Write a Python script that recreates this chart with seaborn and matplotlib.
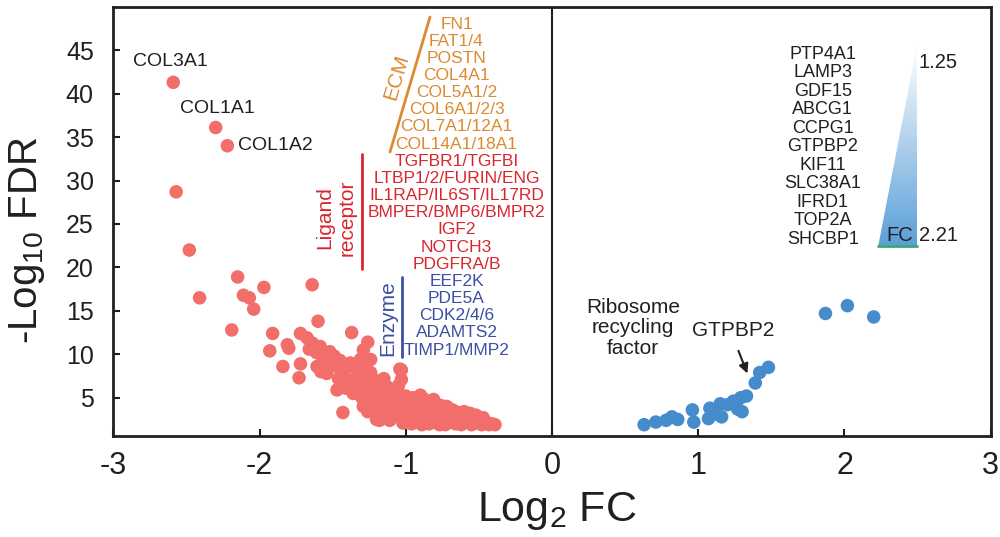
import numpy as np
import pandas as pd
import seaborn as sns
import matplotlib.pyplot as plt
from matplotlib.colors import LinearSegmentedColormap
from matplotlib.patches import Polygon

# down-regulated genes: log2 fold change and -log10 FDR
down_lfc = [-2.59, -2.30, -2.22, -2.57, -2.48, -2.15, -2.41, -1.97, -1.64, -2.11,
            -2.07, -2.04, -2.19, -1.60, -1.91, -1.37, -1.72, -1.93, -1.81, -1.80,
            -1.26, -1.84, -1.72, -1.73, -1.04, -1.43, -1.18,
            -1.675, -1.64, -1.585, -1.52, -1.61, -1.55, -1.66, -1.607, -1.57, -1.54,
            -1.50, -1.47, -1.49, -1.58,
            -1.45, -1.42, -1.40, -1.38, -1.35, -1.31, -1.33, -1.47, -1.44, -1.41,
            -1.36, -1.38, -1.34, -1.31, -1.30, -1.43, -1.46,
            -1.29, -1.24, -1.27, -1.24, -1.22, -1.28, -1.25, -1.24, -1.21, -1.19,
            -1.17, -1.29, -1.26, -1.20, -1.22, -1.18, -1.15, -1.13, -1.12, -1.14,
            -1.10, -1.13, -1.11, -1.16,
            -1.06, -1.03, -1.03, -1.05, -1.01, -1.06, -1.08, -1.04, -1.00, -0.98,
            -0.97, -0.99, -1.02, -0.96, -0.95, -0.93, -0.92, -0.94, -0.91, -0.90,
            -0.89,
            -0.88, -0.86, -0.85, -0.87, -0.84, -0.83, -0.81, -0.80, -0.79, -0.78,
            -0.82, -0.77, -0.76, -0.75, -0.74, -0.72, -0.71, -0.70, -0.73,
            -0.68, -0.67, -0.66, -0.64, -0.63, -0.62, -0.60, -0.58, -0.57, -0.56,
            -0.55, -0.53, -0.52, -0.51, -0.49, -0.48, -0.47, -0.45, -0.43, -0.41,
            -0.39]
down_fdr = [41.3, 36.1, 34.0, 28.7, 22.0, 18.9, 16.5, 17.7, 18.0, 16.8,
            16.5, 15.2, 12.8, 13.8, 12.4, 12.5, 12.4, 10.4, 11.1, 10.7,
            11.4, 8.6, 8.9, 7.3, 8.3, 3.3, 2.4,
            11.9, 11.3, 10.9, 10.3, 10.2, 9.6, 10.6, 8.6, 9.1, 7.8,
            8.9, 8.6, 9.8, 8.0,
            9.3, 8.2, 7.1, 9.0, 8.5, 9.4, 7.6, 5.9, 6.8, 6.1,
            5.5, 6.5, 7.0, 6.2, 5.0, 7.6, 7.2,
            10.5, 9.4, 8.4, 7.9, 7.1, 6.8, 6.0, 5.2, 6.5, 5.8,
            4.8, 4.0, 3.4, 2.5, 4.3, 3.7, 7.2, 6.3, 5.4, 4.5,
            3.9, 3.1, 2.4, 2.9,
            5.5, 8.2, 7.1, 6.4, 4.4, 2.85, 4.8, 3.6, 5.2, 4.2,
            3.3, 2.6, 2.1, 2.0, 5.0, 4.5, 3.8, 2.9, 2.3, 5.3,
            1.9,
            4.9, 4.2, 3.5, 2.7, 2.0, 4.6, 4.8, 3.9, 3.1, 2.4,
            2.9, 1.9, 4.1, 3.5, 2.7, 4.0, 3.2, 2.2, 1.9,
            3.6, 2.8, 2.0, 3.3, 2.5, 1.9, 3.4, 2.9, 2.2, 3.2,
            1.9, 2.6, 3.0, 2.1, 2.4, 1.9, 2.7, 2.2, 1.9, 2.0,
            1.9]

# up-regulated genes
up_lfc = [0.63, 0.71, 0.78, 0.82, 0.86, 0.96, 0.97, 1.08, 1.07, 1.11, 1.15, 1.16,
          1.20, 1.24, 1.27, 1.29, 1.33, 1.30, 1.39, 1.42, 1.48, 1.87, 2.02, 2.20]
up_fdr = [1.9, 2.2, 2.4, 2.8, 2.5, 3.6, 2.2, 3.8, 2.6, 3.1, 4.3, 2.8,
          4.2, 4.6, 3.7, 5.0, 5.2, 3.4, 6.7, 7.9, 8.5, 14.7, 15.6, 14.3]

ecm_genes = ["FN1", "FAT1/4", "POSTN", "COL4A1", "COL5A1/2", "COL6A1/2/3",
             "COL7A1/12A1", "COL14A1/18A1"]
ligand_genes = ["TGFBR1/TGFBI", "LTBP1/2/FURIN/ENG", "IL1RAP/IL6ST/IL17RD",
                "BMPER/BMP6/BMPR2", "IGF2", "NOTCH3", "PDGFRA/B"]
enzyme_genes = ["EEF2K", "PDE5A", "CDK2/4/6", "ADAMTS2", "TIMP1/MMP2"]
top_up_genes = ["PTP4A1", "LAMP3", "GDF15", "ABCG1", "CCPG1", "GTPBP2", "KIF11",
                "SLC38A1", "IFRD1", "TOP2A", "SHCBP1"]
fc_range = ["1.25", "2.21"]
x_ticks = [-3, -2, -1, 0, 1, 2, 3]
y_ticks = [5, 10, 15, 20, 25, 30, 35, 40, 45]

RED = "#f26e6a"
BLUE = "#468ccd"
ORANGE = "#dc8a30"
LIG_RED = "#d9262e"
ENZ_BLUE = "#3b4fa3"
INK = "#231f20"

sns.set_style("ticks")
plt.rcParams['font.family'] = ['Liberation Sans', 'DejaVu Sans']
plt.rcParams['mathtext.default'] = 'regular'
plt.rcParams['axes.unicode_minus'] = False

df = pd.DataFrame({
    "log2fc": down_lfc + up_lfc,
    "fdr": down_fdr + up_fdr,
    "direction": ["down"] * len(down_lfc) + ["up"] * len(up_lfc),
})

fig = plt.figure(figsize=(10, 5.37), dpi=100)
ax = fig.add_axes([0.1133, 0.1881, 0.8774, 0.7994])


def at(px, py):
    # reference pixel -> axes fraction
    return (px - 113.3) / 877.4, (436 - py) / 429.3


sns.scatterplot(data=df, x="log2fc", y="fdr", hue="direction",
                palette={"down": RED, "up": BLUE}, s=95, linewidth=0,
                legend=False, ax=ax, zorder=3)

ax.axvline(0, color=INK, lw=1.5, zorder=1)

# labelled collagen genes
ax.text(-2.607, 43.65, "COL3A1", fontsize=14, color=INK, ha="center", va="center")
ax.text(-2.29, 38.3, "COL1A1", fontsize=14, color=INK, ha="center", va="center")
ax.text(-2.147, 34.0, "COL1A2", fontsize=14, color=INK, ha="left", va="center")

# gene groups of the down-regulated side
left_genes = ecm_genes + ligand_genes + enzyme_genes
left_cols = [ORANGE] * len(ecm_genes) + [LIG_RED] * len(ligand_genes) + [ENZ_BLUE] * len(enzyme_genes)
for i, (g, c) in enumerate(zip(left_genes, left_cols)):
    fx, fy = at(456.5, 24 + i * 17.16)
    ax.text(fx, fy, g, fontsize=12.5, color=c, ha="center", va="center",
            transform=ax.transAxes)

x0, y0 = at(430, 17)
x1, y1 = at(390, 152)
ax.plot([x0, x1], [y0, y1], color=ORANGE, lw=2, transform=ax.transAxes)
fx, fy = at(396.7, 76.7)
ax.text(fx, fy, "ECM", fontsize=15, color=ORANGE, rotation=73.5,
        rotation_mode="anchor", ha="center", va="center", transform=ax.transAxes)

x0, y0 = at(361.7, 154)
x1, y1 = at(361.7, 269)
ax.plot([x0, x1], [y0, y1], color=LIG_RED, lw=2, transform=ax.transAxes)
fx, fy = at(336, 218)
ax.text(fx, fy, "Ligand\nreceptor", fontsize=15, color=LIG_RED, rotation=90,
        ha="center", va="center", transform=ax.transAxes)

x0, y0 = at(402.3, 277)
x1, y1 = at(402.3, 357)
ax.plot([x0, x1], [y0, y1], color=ENZ_BLUE, lw=2, transform=ax.transAxes)
fx, fy = at(387.3, 318.3)
ax.text(fx, fy, "Enzyme", fontsize=15, color=ENZ_BLUE, rotation=90,
        ha="center", va="center", transform=ax.transAxes)

# top up-regulated genes with FC gradient wedge
for i, g in enumerate(top_up_genes):
    fx, fy = at(822.7, 54 + i * 18.5)
    ax.text(fx, fy, g, fontsize=13, color=INK, ha="center", va="center",
            transform=ax.transAxes)

tip = at(916.7, 46.7)
bl = at(878.3, 245.7)
br = at(917.3, 245.7)
wedge = Polygon([tip, bl, br], closed=True, facecolor="none", edgecolor="none",
                transform=ax.transAxes)
ax.add_patch(wedge)
cmap = LinearSegmentedColormap.from_list("fc", ["#ffffff", "#5a9fd8"])
grad = np.linspace(0, 1, 256).reshape(-1, 1)
im = ax.imshow(grad, cmap=cmap, aspect="auto", origin="upper",
               extent=[bl[0], br[0], bl[1], tip[1]], transform=ax.transAxes, zorder=2)
im.set_clip_path(wedge)
ax.plot([bl[0], br[0]], [bl[1], br[1]], color="#3da57a", lw=2, transform=ax.transAxes)

fx, fy = at(919, 62.7)
ax.text(fx, fy, fc_range[0], fontsize=14.5, color=INK, ha="left", va="center",
        transform=ax.transAxes)
fx, fy = at(919, 235)
ax.text(fx, fy, fc_range[1], fontsize=14.5, color=INK, ha="left", va="center",
        transform=ax.transAxes)
fx, fy = at(913.5, 235)
ax.text(fx, fy, "FC", fontsize=14.5, color=INK, ha="right", va="center",
        transform=ax.transAxes, zorder=4)

# ribosome recycling factor annotation
ax.text(0.555, 13.05, "Ribosome\nrecycling\nfactor", fontsize=15, color=INK,
        ha="center", va="center", linespacing=1.1)
ax.text(1.237, 12.7, "GTPBP2", fontsize=15, color=INK, ha="center", va="center")
ax.annotate("", xy=(1.343, 7.5), xytext=(1.268, 10.7),
            arrowprops=dict(arrowstyle="-|>", color=INK, lw=1.5, mutation_scale=14))

ax.set_xlim(-3, 3)
ax.set_ylim(0.6, 50)
ax.set_xticks(x_ticks)
ax.set_yticks(y_ticks)
ax.tick_params(direction="in", length=5, width=1.5, colors=INK)
ax.tick_params(axis="x", labelsize=22, pad=11)
ax.tick_params(axis="y", labelsize=18, pad=14)
for sp in ax.spines.values():
    sp.set_linewidth(2)
    sp.set_color(INK)

ax.set_xlabel("Log$_2$ FC", fontsize=31, color=INK)
ax.set_ylabel("-Log$_{10}$ FDR", fontsize=29, color=INK)
ax.xaxis.set_label_coords(0.506, -0.126)
ax.yaxis.set_label_coords(-0.075, 0.456)

fig.savefig("out.png", dpi=100)
